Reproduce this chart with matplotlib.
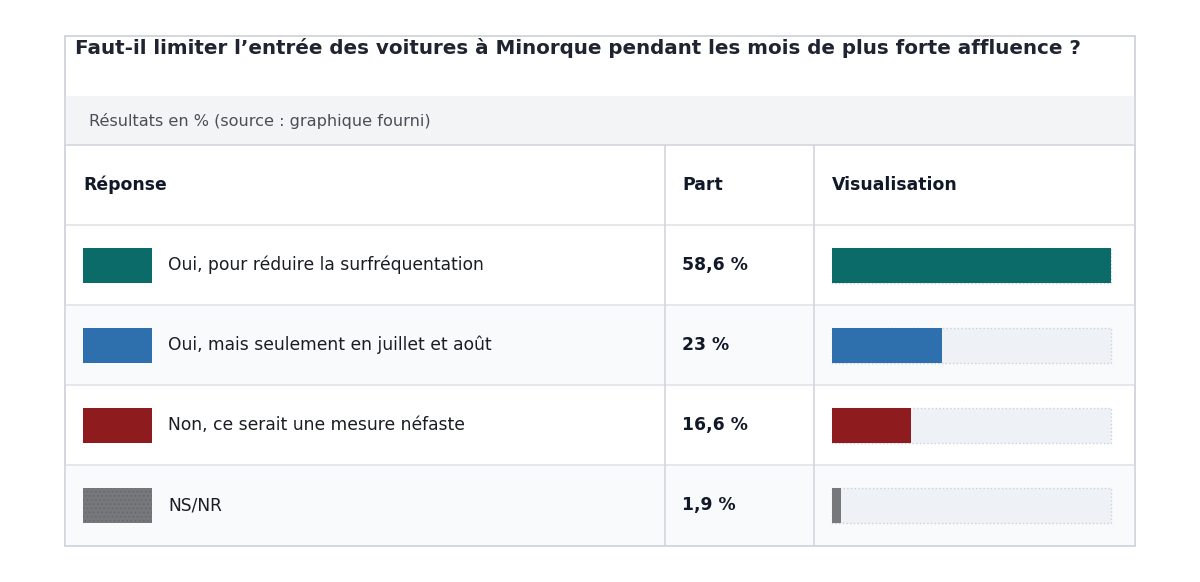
import matplotlib
matplotlib.use("Agg")
import matplotlib.pyplot as plt
from matplotlib.patches import Rectangle

plt.rcParams['font.family'] = ['DejaVu Sans']
plt.rcParams['hatch.linewidth'] = 0.6

# données
reponses = ["Oui, pour réduire la surfréquentation",
            "Oui, mais seulement en juillet et août",
            "Non, ce serait une mesure néfaste",
            "NS/NR"]
parts = [58.6, 23, 16.6, 1.9]
part_labels = ["58,6 %", "23 %", "16,6 %", "1,9 %"]
couleurs = ["#0b6b68", "#2e6fad", "#8e1c1f", "#76787c"]

titre = "Faut-il limiter l’entrée des voitures à Minorque pendant les mois de plus forte affluence ?"
sous_titre = "Résultats en % (source : graphique fourni)"
entetes = ["Réponse", "Part", "Visualisation"]

W, H = 1200, 582
fig = plt.figure(figsize=(W / 100, H / 100), dpi=100)
ax = fig.add_axes([0, 0, 1, 1])
ax.set_xlim(0, W)
ax.set_ylim(H, 0)
ax.axis("off")

border = "#d3d6dd"
left, right, top, bottom = 65, 1135, 36, 546
row_h = 80
head_top = 145
rows_top = 225

# carte
ax.add_patch(Rectangle((left, top), right - left, bottom - top, facecolor="white",
                       edgecolor=border, lw=1.2, zorder=0))
ax.add_patch(Rectangle((left, 96), right - left, head_top - 96, facecolor="#f3f4f6",
                       edgecolor="none", zorder=1))
ax.text(75, 48, titre, fontsize=14.3, fontweight="bold", color="#1f2430", va="center")
ax.text(89, 121, sous_titre, fontsize=11.6, color="#4a4f57", va="center")

# lignes du tableau
for i in range(len(reponses)):
    y0 = rows_top + i * row_h
    if i % 2 == 1:
        ax.add_patch(Rectangle((left, y0), right - left, row_h, facecolor="#f8fafc",
                               edgecolor="none", zorder=1))
ax.plot([left, right], [head_top, head_top], color=border, lw=1.2, zorder=2)
for i in range(len(reponses)):
    y = rows_top + i * row_h
    ax.plot([left, right], [y, y], color="#e1e3e8", lw=1.2, zorder=2)
for x in (665, 814):
    ax.plot([x, x], [head_top, bottom], color=border, lw=1.2, zorder=2)
ax.add_patch(Rectangle((left, top), right - left, bottom - top, facecolor="none",
                       edgecolor=border, lw=1.2, zorder=4))

for x, t in zip((83, 682, 832), entetes):
    ax.text(x, 185, t, fontsize=12.4, fontweight="bold", color="#111827", va="center")

for i, (rep, lab, c) in enumerate(zip(reponses, part_labels, couleurs)):
    yc = rows_top + i * row_h + row_h / 2
    hatch = "...." if rep == "NS/NR" else None
    sw = Rectangle((83, yc - 17.5), 69, 35, facecolor=c, edgecolor="#66686c" if hatch else c,
                   lw=0, hatch=hatch, zorder=3)
    ax.add_patch(sw)
    ax.text(168, yc, rep, fontsize=12.3, color="#1a1d24", va="center")
    ax.text(682, yc, lab, fontsize=12.4, fontweight="bold", color="#111827", va="center")

# visualisation
bx = fig.add_axes([832 / W, (H - 545) / H, 279 / W, 320 / H])
bx.set_xlim(0, max(parts))
bx.set_ylim(len(parts) - 0.5, -0.5)
bx.axis("off")
ypos = range(len(parts))
bx.barh(ypos, [max(parts)] * len(parts), height=35 / row_h, color="#eef1f6",
        edgecolor="#cdd1d8", linestyle=":", lw=1, clip_on=False)
bx.barh(ypos, parts, height=35 / row_h, color=couleurs, clip_on=False)

fig.savefig("out.png", dpi=100)
